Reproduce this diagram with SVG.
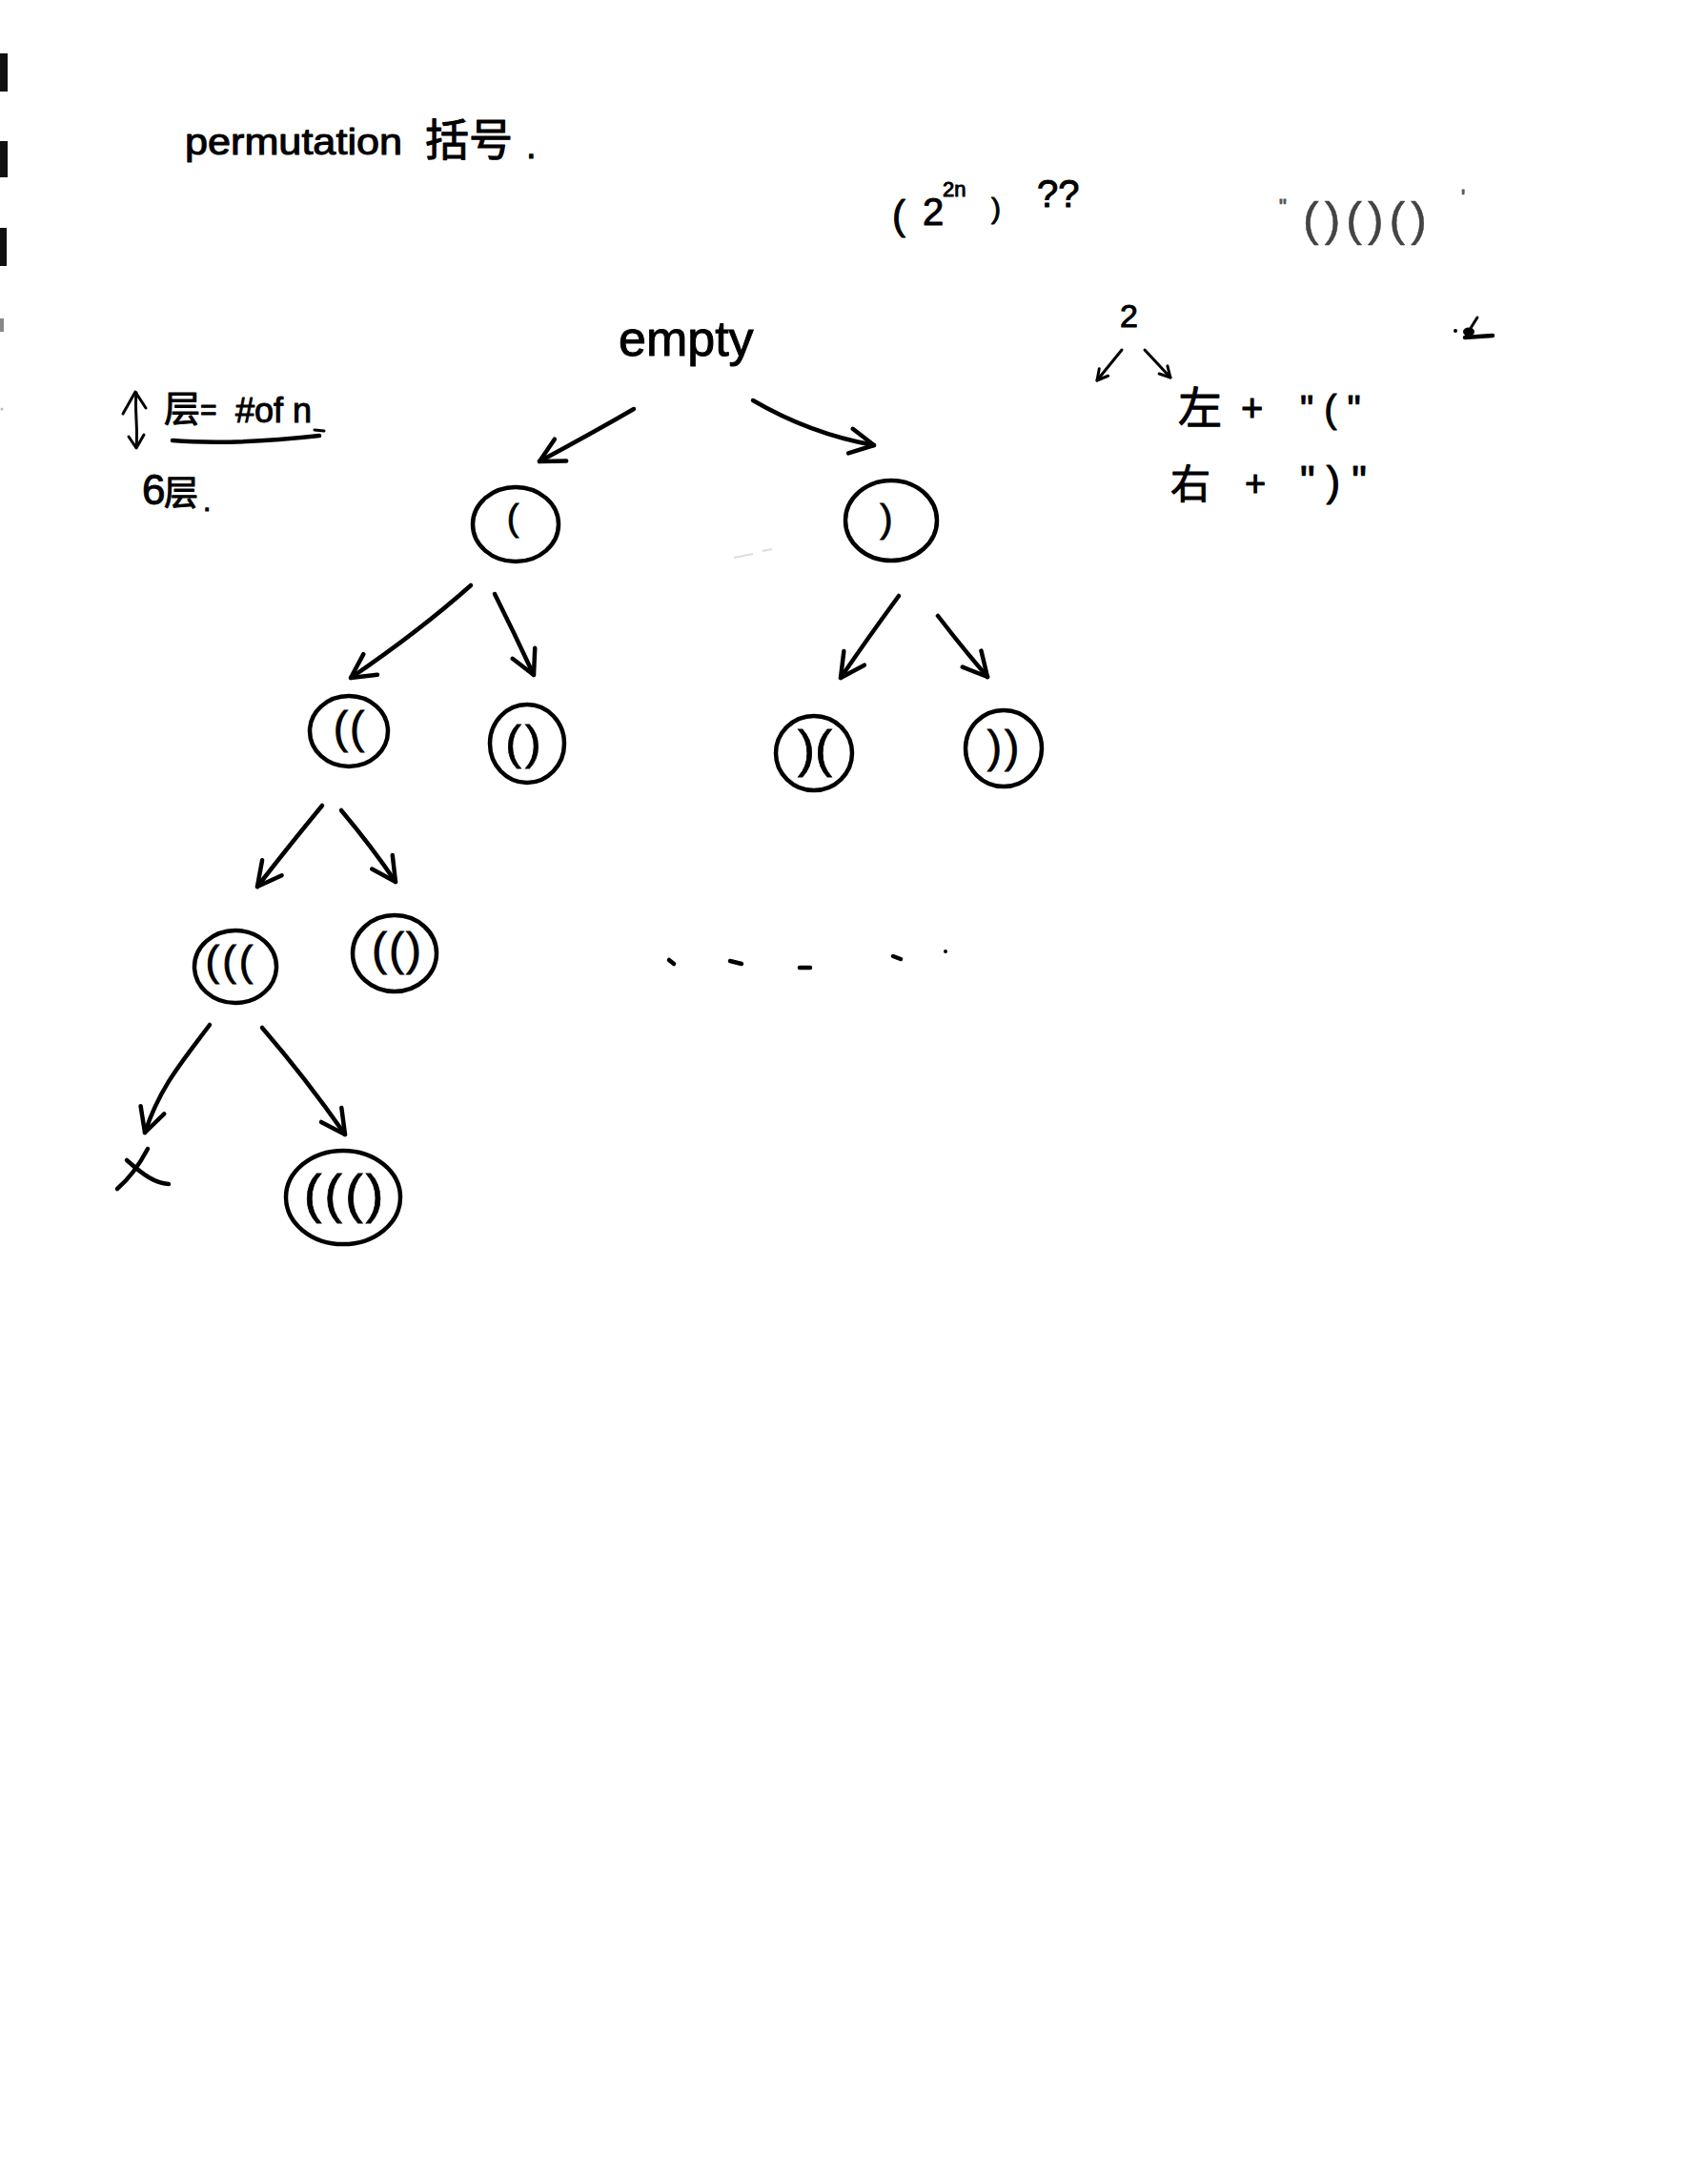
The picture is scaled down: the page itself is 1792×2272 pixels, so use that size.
<svg xmlns="http://www.w3.org/2000/svg" width="1792" height="2272" viewBox="0 0 1792 2272">
<style>
.t{font-family:"Liberation Sans","Noto Sans CJK SC",sans-serif;fill:#000;stroke:#000;stroke-width:1;stroke-linejoin:round}
.node{fill:none;stroke:#000;stroke-width:4.5}
.p{font-family:"Liberation Sans",sans-serif;fill:#000;stroke:#000;stroke-width:0.8;text-anchor:middle}
.ln{fill:none;stroke:#000;stroke-width:4.5;stroke-linecap:round;stroke-linejoin:round}
.thin{fill:none;stroke:#000;stroke-width:3;stroke-linecap:round;stroke-linejoin:round}
</style>
<defs>
<marker id="ah" viewBox="0 0 34 34" refX="31" refY="17" markerWidth="34" markerHeight="34" markerUnits="userSpaceOnUse" orient="auto">
<path d="M6,4 L31,17 L6,30" fill="none" stroke="#000" stroke-width="4.5" stroke-linecap="round" stroke-linejoin="round"/>
</marker>
<marker id="ahs" viewBox="0 0 16 16" refX="14" refY="8" markerWidth="16" markerHeight="16" markerUnits="userSpaceOnUse" orient="auto">
<path d="M3,2 L14,8 L3,14" fill="none" stroke="#000" stroke-width="3" stroke-linecap="round" stroke-linejoin="round"/>
</marker>
</defs>
<rect x="0" y="0" width="1792" height="2272" fill="#fff"/>

<g id="margin">
<rect x="0" y="56" width="8" height="40" fill="#111"/>
<rect x="0" y="148" width="8" height="38" fill="#111"/>
<rect x="0" y="239" width="7" height="40" fill="#111"/>
<rect x="0" y="334" width="4" height="14" fill="#888"/>
<circle cx="2" cy="429" r="1.5" fill="#bbb"/>
</g>

<g id="title">
<text class="t" x="194" y="162" font-size="38" textLength="228" lengthAdjust="spacingAndGlyphs">permutation</text>
<text class="t" x="446" y="163" font-size="46">括号</text>
<text class="t" x="552" y="166" font-size="38">.</text>
</g>

<g id="complexity">
<text class="t" x="936" y="240" font-size="42">(</text>
<text class="t" x="968" y="236" font-size="40">2</text>
<text class="t" x="989" y="206" font-size="22">2n</text>
<text class="t" x="1040" y="229" font-size="30">)</text>
<text class="t" x="1088" y="217" font-size="40">??</text>
</g>

<g id="example">
<text class="t" x="1342" y="224" font-size="22" style="fill:#555;stroke:#555">"</text>
<text class="t" x="1367" y="247" font-size="50" letter-spacing="6" style="fill:#444;stroke:#444;stroke-width:0.5">()()()</text>
<text class="t" x="1533" y="214" font-size="22" style="fill:#555;stroke:#555">'</text>
</g>

<g id="rule">
<text class="t" x="1175" y="343" font-size="34">2</text>
<path class="thin" d="M1177,367 L1151,399" marker-end="url(#ahs)"/>
<path class="thin" d="M1201,367 L1228,396" marker-end="url(#ahs)"/>
<text class="t" x="1236" y="444" font-size="46">左</text>
<text class="t" x="1302" y="442" font-size="40">+</text>
<text class="t" x="1364" y="443" font-size="40" letter-spacing="11">"("</text>
<text class="t" x="1228" y="523" font-size="42">右</text>
<text class="t" x="1306" y="520" font-size="38">+</text>
<text class="t" x="1364" y="520" font-size="44" letter-spacing="12">")"</text>
</g>

<g id="mark">
<circle cx="1527" cy="347" r="2" fill="#000"/>
<path class="thin" d="M1550,333 C1545,341 1541,347 1538,353"/>
<ellipse cx="1541" cy="348" rx="6" ry="4.5" fill="#000"/>
<path class="ln" d="M1537,354 L1566,352"/>
</g>

<g id="layers">
<path class="thin" d="M143,412 C141,430 145,450 143,469"/>
<path class="thin" d="M129,434 L142,411 L153,428"/>
<path class="thin" d="M135,458 L143,470 L151,456"/>
<text class="t" x="172" y="442" font-size="38">层</text>
<text class="t" x="210" y="440" font-size="30">=</text>
<text class="t" x="247" y="443" font-size="36">#of n</text>
<path class="ln" d="M181,462 C230,466 290,462 335,457"/>
<path class="thin" d="M330,451 L340,452"/>
<text class="t" x="149" y="529" font-size="44">6</text>
<text class="t" x="172" y="530" font-size="36">层</text>
<text class="t" x="213" y="536" font-size="30">.</text>
</g>

<g id="connectors">
<path class="ln" d="M665,429 Q620,455 566,484" marker-end="url(#ah)"/>
<path class="ln" d="M790,420 Q850,455 917,467" marker-end="url(#ah)"/>
<path class="ln" d="M494,614 Q440,662 368,711" marker-end="url(#ah)"/>
<path class="ln" d="M519,623 Q540,665 560,708" marker-end="url(#ah)"/>
<path class="ln" d="M943,625 Q910,670 882,711" marker-end="url(#ah)"/>
<path class="ln" d="M984,646 Q1010,680 1036,710" marker-end="url(#ah)"/>
<path class="ln" d="M338,845 Q305,885 270,930" marker-end="url(#ah)"/>
<path class="ln" d="M358,850 Q390,888 415,925" marker-end="url(#ah)"/>
<path class="ln" d="M220,1075 C190,1115 168,1140 152,1188" marker-end="url(#ah)"/>
<path class="ln" d="M275,1078 Q320,1130 362,1190" marker-end="url(#ah)"/>
</g>

<g id="node-empty"><text class="t" x="649" y="373" font-size="52">empty</text></g>
<g id="node-l"><ellipse class="node" cx="541" cy="550" rx="45" ry="39"/><text class="p" x="538" y="556" font-size="38">(</text></g>
<g id="node-r"><ellipse class="node" cx="935" cy="546" rx="48" ry="42"/><text class="p" x="930" y="558" font-size="40">)</text></g>
<g id="node-ll"><ellipse class="node" cx="366" cy="767" rx="41" ry="37"/><text class="p" x="367" y="779" font-size="46" letter-spacing="2">((</text></g>
<g id="node-lr"><ellipse class="node" cx="553" cy="780" rx="39" ry="41"/><text class="p" x="551" y="796" font-size="50" letter-spacing="4">()</text></g>
<g id="node-rl"><ellipse class="node" cx="854" cy="790" rx="40" ry="39"/><text class="p" x="855" y="804" font-size="54">)(</text></g>
<g id="node-rr"><ellipse class="node" cx="1053" cy="785" rx="40" ry="40"/><text class="p" x="1054" y="799" font-size="46" letter-spacing="3">))</text></g>
<g id="node-lll"><ellipse class="node" cx="247" cy="1014" rx="43" ry="38"/><text class="p" x="242" y="1023" font-size="44" letter-spacing="3">(((</text></g>
<g id="node-llr"><ellipse class="node" cx="414" cy="1000" rx="44" ry="40"/><text class="p" x="417" y="1012" font-size="48" letter-spacing="2">(()</text></g>
<g id="node-lllr"><ellipse class="node" cx="360" cy="1256" rx="60" ry="49"/><text class="p" x="362" y="1271" font-size="56" letter-spacing="3">((()</text></g>
<g id="node-x">
<path class="ln" d="M155,1205 C146,1222 136,1236 123,1247"/>
<path class="ln" d="M133,1217 C150,1232 162,1241 177,1242"/>
</g>

<g id="ellipsis">
<path class="ln" d="M702,1007 L707,1011"/>
<path class="ln" d="M766,1008 L778,1011"/>
<path class="ln" d="M839,1015 L850,1015" stroke-width="6"/>
<path class="ln" d="M937,1003 L945,1006"/>
<circle cx="992" cy="998" r="2" fill="#000"/>
</g>
<path d="M770,585 L790,581 M800,578 L810,576" stroke="#ddd" stroke-width="2" fill="none"/>
</svg>
